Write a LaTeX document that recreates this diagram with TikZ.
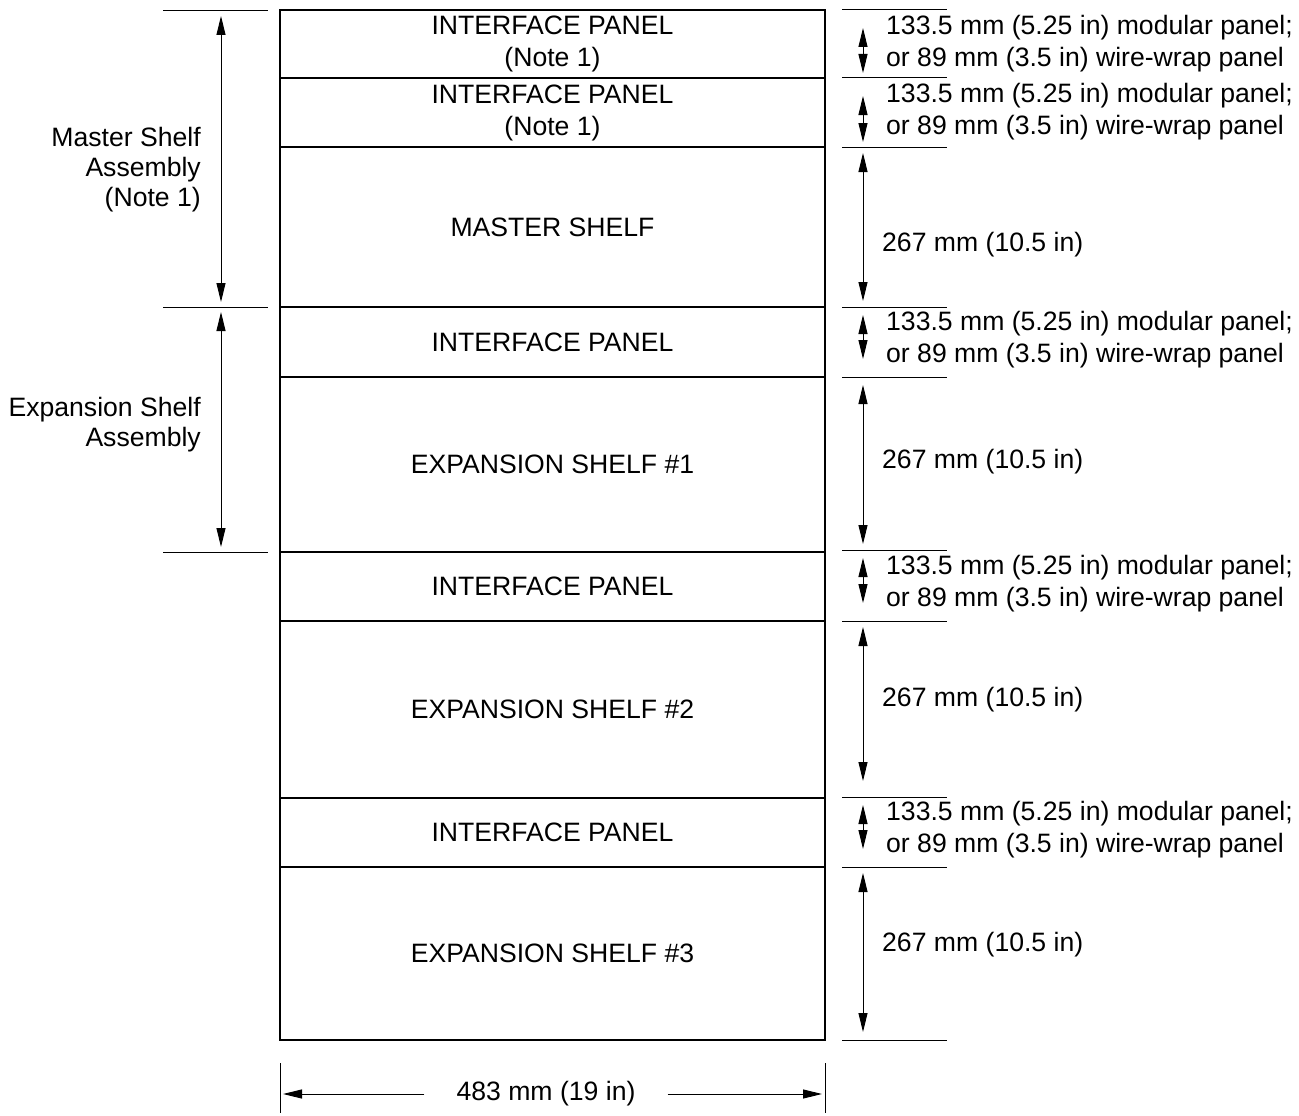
\documentclass[tikz,border=0pt]{standalone}
\usepackage{fontspec}
\setmainfont{Liberation Sans}
\usetikzlibrary{arrows.meta}
\begin{document}
\begin{tikzpicture}[x=1pt,y=-1pt,
  font=\fontsize{26.6}{32}\selectfont,
  box/.style={draw, line width=2.4pt, minimum width=545pt, inner sep=0pt, align=center},
  extline/.style={line width=1pt},
  dimarrow/.style={line width=1pt, {Triangle[length=19pt,width=9pt]}-{Triangle[length=19pt,width=9pt]}},
  onearrow/.style={line width=1pt, -{Triangle[length=19pt,width=9pt]}},
  dimlabel/.style={anchor=west, align=left, inner sep=0pt},
  sidelabel/.style={anchor=east, align=right, inner sep=0pt, font=\fontsize{26.6}{30}\selectfont}]
\useasboundingbox (0,0) rectangle (1299,1116);

% main stack of boxes
\node[box, minimum height=68pt]  (ip1) at (552.5,44)    {INTERFACE PANEL\\(Note 1)};
\node[box, minimum height=69pt]  (ip2) at (552.5,112.5) {INTERFACE PANEL\\(Note 1)};
\node[box, minimum height=160pt] (ms)  at (552.5,227)   {MASTER SHELF};
\node[box, minimum height=70pt]  (ip3) at (552.5,342)   {INTERFACE PANEL};
\node[box, minimum height=175pt] (es1) at (552.5,464.5) {EXPANSION SHELF \#1};
\node[box, minimum height=69pt]  (ip4) at (552.5,586.5) {INTERFACE PANEL};
\node[box, minimum height=177pt] (es2) at (552.5,709.5) {EXPANSION SHELF \#2};
\node[box, minimum height=69pt]  (ip5) at (552.5,832.5) {INTERFACE PANEL};
\node[box, minimum height=173pt] (es3) at (552.5,953.5) {EXPANSION SHELF \#3};

% right extension lines
\foreach \n/\y in {0/10,1/78,2/147,3/307,4/377,5/550,6/621,7/797,8/867,9/1040}{
  \coordinate (r\n) at (863,\y);
  \draw[extline] (842,\y) -- (947,\y);
}

% right dimension arrows (positive yshift points up)
\draw[dimarrow] ([yshift=-18pt]r0) -- ([yshift=5pt]r1);
\draw[dimarrow] ([yshift=-18pt]r1) -- ([yshift=5pt]r2);
\draw[dimarrow] ([yshift=-6pt]r2) -- ([yshift=6pt]r3);
\draw[dimarrow] ([yshift=-8pt]r3) -- ([yshift=18pt]r4);
\draw[dimarrow] ([yshift=-8pt]r4) -- ([yshift=6pt]r5);
\draw[dimarrow] ([yshift=-8pt]r5) -- ([yshift=18pt]r6);
\draw[dimarrow] ([yshift=-6pt]r6) -- ([yshift=16pt]r7);
\draw[dimarrow] ([yshift=-8pt]r7) -- ([yshift=18pt]r8);
\draw[dimarrow] ([yshift=-6pt]r8) -- ([yshift=8pt]r9);

% right labels
\node[dimlabel] (d1) at (886,43.5)  {133.5 mm (5.25 in) modular panel;\\or 89 mm (3.5 in) wire-wrap panel};
\node[dimlabel] (d2) at (886,111.5) {133.5 mm (5.25 in) modular panel;\\or 89 mm (3.5 in) wire-wrap panel};
\node[dimlabel] (d3) at (882,245)   {267 mm (10.5 in)};
\node[dimlabel] (d4) at (886,340)   {133.5 mm (5.25 in) modular panel;\\or 89 mm (3.5 in) wire-wrap panel};
\node[dimlabel] (d5) at (882,462)   {267 mm (10.5 in)};
\node[dimlabel] (d6) at (886,584)   {133.5 mm (5.25 in) modular panel;\\or 89 mm (3.5 in) wire-wrap panel};
\node[dimlabel] (d7) at (882,700)   {267 mm (10.5 in)};
\node[dimlabel] (d8) at (886,830)   {133.5 mm (5.25 in) modular panel;\\or 89 mm (3.5 in) wire-wrap panel};
\node[dimlabel] (d9) at (882,945)   {267 mm (10.5 in)};

% left extension lines and arrows
\foreach \n/\y in {0/11,1/307,2/552}{
  \coordinate (l\n) at (221,\y);
  \draw[extline] (163,\y) -- (268,\y);
}
\draw[dimarrow] ([yshift=-5pt]l0) -- ([yshift=5pt]l1);
\draw[dimarrow] ([yshift=-5pt]l1) -- ([yshift=5pt]l2);

\node[sidelabel] (msa) at (201,170) {Master Shelf\\Assembly\\(Note 1)};
\node[sidelabel] (esa) at (201,425) {Expansion Shelf\\Assembly};

% bottom width dimension
\coordinate (tl) at (280,1063);
\coordinate (tr) at (825,1063);
\draw[extline] (tl) -- ++(0,50);
\draw[extline] (tr) -- ++(0,50);
\node[inner xsep=32pt, inner ysep=0pt] (w) at (546,1094) {483 mm (19 in)};
\draw[onearrow] (w.west) -- ([xshift=3pt]tl |- w.west);
\draw[onearrow] (w.east) -- ([xshift=-3pt]tr |- w.east);
\end{tikzpicture}
\end{document}
